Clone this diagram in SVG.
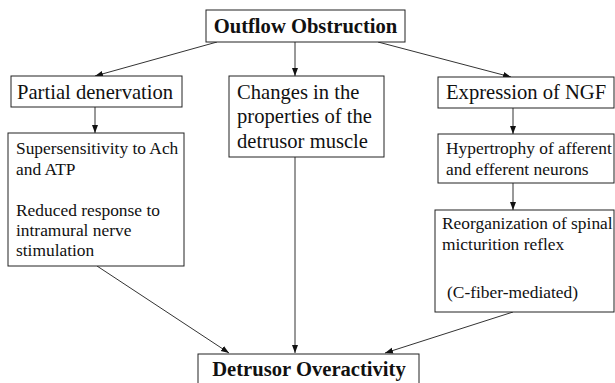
<svg xmlns="http://www.w3.org/2000/svg" width="615" height="383" viewBox="0 0 615 383">
<defs>
<style>
.box{fill:#fff;stroke:#222;stroke-width:1}
.t{font-family:"Liberation Serif","Times New Roman",serif;fill:#111}
.lg{font-size:20.6px}
.sm{font-size:17.4px}
.b{font-weight:bold}
.conn line{stroke:#333;stroke-width:1;marker-end:url(#ah)}
</style>
<marker id="ah" markerUnits="userSpaceOnUse" markerWidth="8" markerHeight="8" viewBox="0 0 8 8" refX="8" refY="4" orient="auto">
<path d="M0,1 L8,4 L0,7 Z" fill="#111"/>
</marker>
</defs>
<rect width="615" height="383" fill="#fff"/>
<g id="connectors" class="conn">
<line x1="217" y1="42" x2="95" y2="76"/>
<line x1="295" y1="42" x2="295" y2="76"/>
<line x1="378" y1="42" x2="511" y2="77"/>
<line x1="95" y1="107" x2="95" y2="133"/>
<line x1="513" y1="108" x2="513" y2="134"/>
<line x1="513" y1="183" x2="513" y2="210"/>
<line x1="97" y1="266" x2="229" y2="353"/>
<line x1="295" y1="157" x2="295" y2="353"/>
<line x1="513" y1="312" x2="385" y2="353"/>
</g>
<g id="outflow">
<rect class="box" x="206" y="10" width="199" height="32"/>
<text class="t lg b" x="305.5" y="33" text-anchor="middle">Outflow Obstruction</text>
</g>
<g id="partial">
<rect class="box" x="11" y="76" width="171" height="31"/>
<text class="t lg" x="17" y="99">Partial denervation</text>
</g>
<g id="changes">
<rect class="box" x="229" y="76" width="155" height="81"/>
<text class="t lg" x="237" y="99">Changes in the</text>
<text class="t lg" x="237" y="123">properties of the</text>
<text class="t lg" x="237" y="148">detrusor muscle</text>
</g>
<g id="ngf">
<rect class="box" x="438" y="77" width="176" height="31"/>
<text class="t lg" x="446" y="99">Expression of NGF</text>
</g>
<g id="super">
<rect class="box" x="8" y="133" width="176" height="133"/>
<text class="t sm" x="16" y="154">Supersensitivity to Ach</text>
<text class="t sm" x="16" y="175">and ATP</text>
<text class="t sm" x="16" y="216">Reduced response to</text>
<text class="t sm" x="16" y="236">intramural nerve</text>
<text class="t sm" x="16" y="256">stimulation</text>
</g>
<g id="hyper">
<rect class="box" x="438" y="134" width="176" height="49"/>
<text class="t sm" x="446" y="154">Hypertrophy of afferent</text>
<text class="t sm" x="446" y="175">and efferent neurons</text>
</g>
<g id="reorg">
<rect class="box" x="435" y="210" width="179" height="102"/>
<text class="t sm" x="442" y="229">Reorganization of spinal</text>
<text class="t sm" x="442" y="250">micturition reflex</text>
<text class="t sm" x="447" y="298">(C-fiber-mediated)</text>
</g>
<g id="detrusor">
<rect class="box" x="198" y="354" width="221" height="40"/>
<text class="t lg b" x="309" y="376" text-anchor="middle">Detrusor Overactivity</text>
</g>
</svg>
